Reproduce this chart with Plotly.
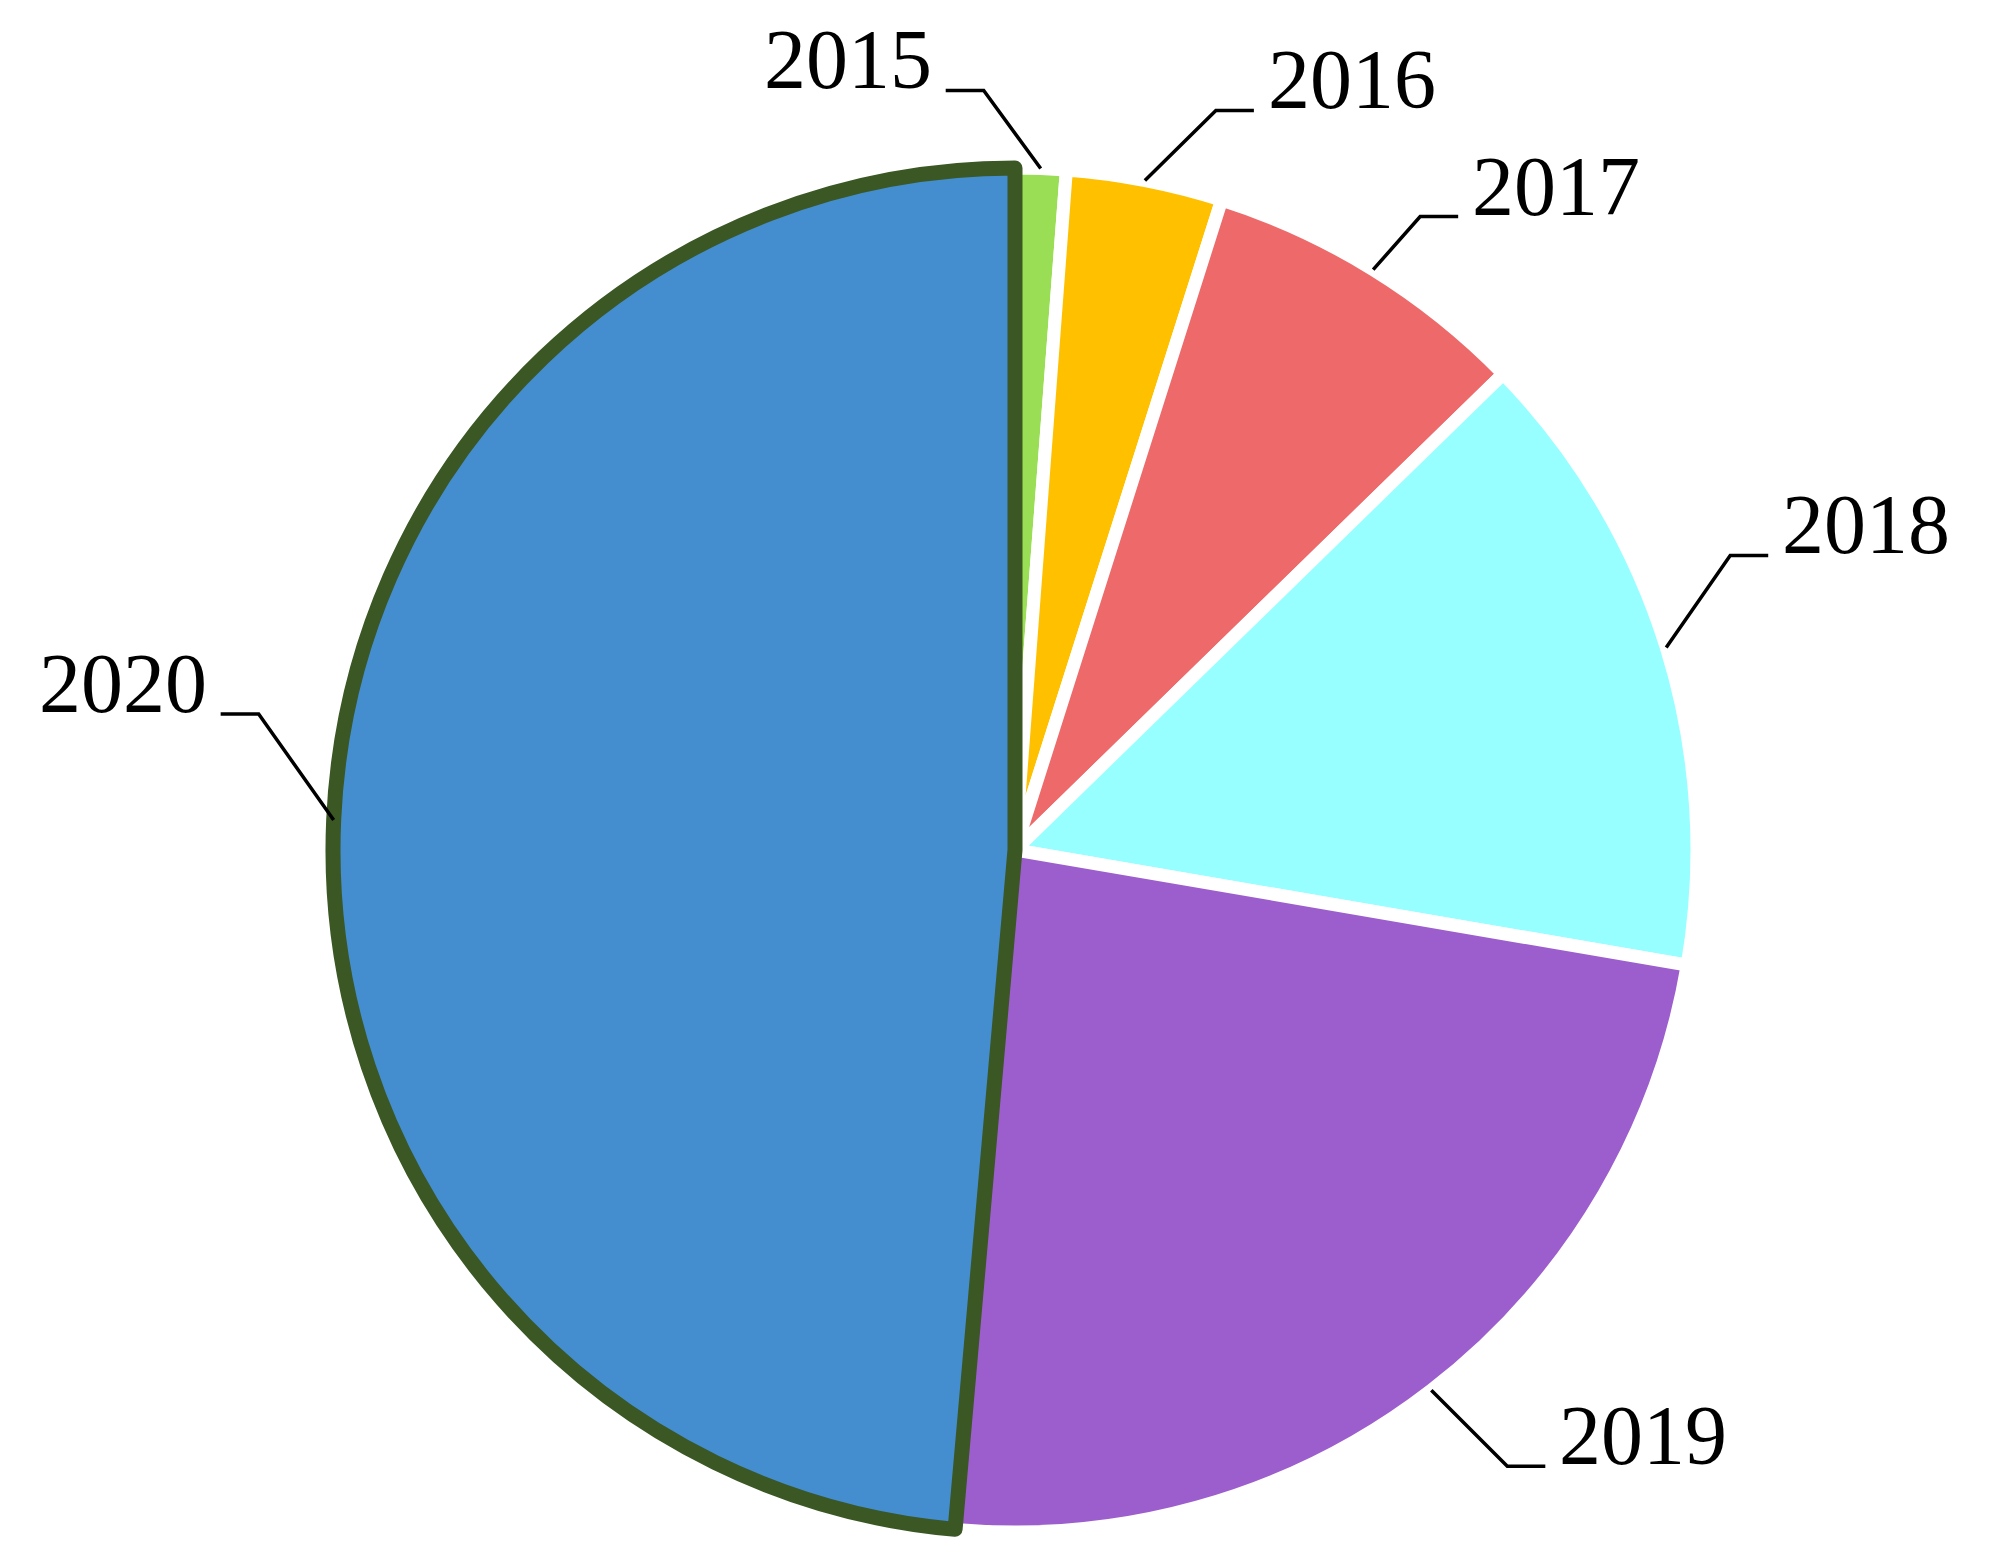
import numpy as np
import plotly.graph_objects as go

# Share of each year (percent)
years  = ["2015", "2016", "2017", "2018", "2019", "2020"]
shares = [1.2, 3.7, 7.8, 15.0, 23.7, 48.6]

colors      = ["#9ADE55", "#FFC000", "#EE6A6A", "#97FFFF", "#9D5ECD", "#448DCF"]
line_colors = ["white", "white", "white", "white", "white", "#3A5724"]
line_widths = [13, 13, 13, 13, 13, 15]

# Figure / pie geometry in pixels
W, H   = 1996, 1568
CX, CY = 1007, 842
R      = 682

# Leader line elbow offsets from the slice edge (px) and label side
elbow = [(-57, -78), (71, -70), (47, -53), (64, -92), (76, 76), (-75, -106)]
side  = ["left", "right", "right", "right", "right", "left"]
SEG, GAP = 38, 12


def px(x, y):
    return x / W, 1 - y / H


fig = go.Figure(go.Pie(
    labels=years,
    values=shares,
    sort=False,
    direction="clockwise",
    rotation=0,
    textinfo="none",
    hoverinfo="label+percent",
    marker=dict(colors=colors, line=dict(color=line_colors, width=line_widths)),
    domain=dict(x=[(CX - R) / W, (CX + R) / W], y=[(H - CY - R) / H, (H - CY + R) / H]),
    showlegend=False,
))

# leader lines and labels, anchored on each slice's mid angle
frac = np.array(shares) / sum(shares)
mid  = (np.cumsum(frac) - frac / 2) * 2 * np.pi
shapes, annotations = [], []
for year, a, (dx, dy), s in zip(years, mid, elbow, side):
    ax, ay = CX + R * np.sin(a), CY - R * np.cos(a)
    ex, ey = ax + dx, ay + dy
    sgn = -1 if s == "left" else 1
    hx = ex + sgn * SEG
    p0, p1, p2 = px(ax, ay), px(ex, ey), px(hx, ey)
    shapes.append(dict(
        type="path", xref="paper", yref="paper",
        path=f"M {p0[0]} {p0[1]} L {p1[0]} {p1[1]} L {p2[0]} {p2[1]}",
        line=dict(color="black", width=3.5),
    ))
    tx, ty = px(hx + sgn * GAP, ey)
    annotations.append(dict(
        text=year, x=tx, y=ty, xref="paper", yref="paper",
        xanchor="right" if s == "left" else "left", yanchor="bottom",
        yshift=-18, showarrow=False,
        font=dict(size=84, color="black", family="Liberation Serif"),
    ))

fig.update_layout(
    width=W,
    height=H,
    margin=dict(l=0, r=0, t=0, b=0),
    paper_bgcolor="white",
    plot_bgcolor="white",
    shapes=shapes,
    annotations=annotations,
)

fig.write_html("out.html")
